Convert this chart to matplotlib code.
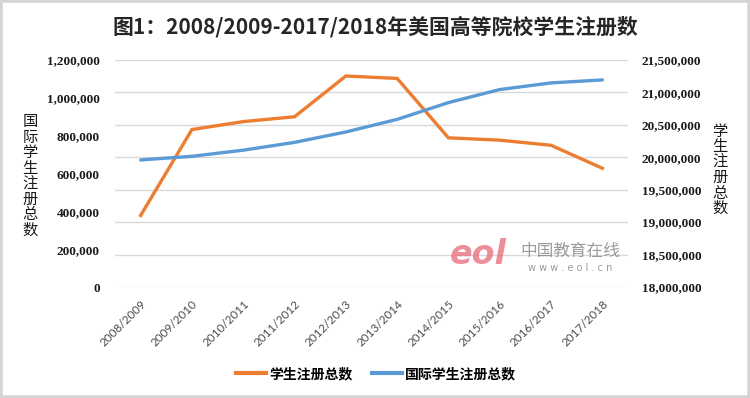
import matplotlib.pyplot as plt
from matplotlib.patches import Rectangle
from matplotlib.lines import Line2D
from matplotlib.ticker import FuncFormatter

plt.rcParams['font.family'] = ['Noto Sans CJK SC', 'DejaVu Sans']

# data
years = ['2008/2009', '2009/2010', '2010/2011', '2011/2012', '2012/2013',
         '2013/2014', '2014/2015', '2015/2016', '2016/2017', '2017/2018']
total_students = [19103000, 20428000, 20550000, 20625000, 21253000,
                  21216000, 20300000, 20264000, 20185000, 19831000]
intl_students = [671616, 690923, 723277, 764495, 819644,
                 886052, 974926, 1043839, 1078822, 1094792]

left_ticks = [0, 200000, 400000, 600000, 800000, 1000000, 1200000]
right_ticks = [18000000, 18500000, 19000000, 19500000, 20000000,
               20500000, 21000000, 21500000]

orange = '#ED7D31'
blue = '#5B9BD5'

W, H = 750, 398
fig = plt.figure(figsize=(7.5, 3.98), dpi=100)
fig.patch.set_facecolor('white')

rect = [115 / W, 1 - 287 / H, (628 - 115) / W, 227 / H]
ax2 = fig.add_axes(rect)             # right axis: total students + gridlines
ax = fig.add_axes(rect, sharex=ax2)  # left axis: international students

x = list(range(len(years)))

# right scale (orange) with gridlines
ax2.plot(x, total_students, color=orange, lw=2.4, solid_joinstyle='miter')
ax2.set_ylim(right_ticks[0], right_ticks[-1])
ax2.set_yticks(right_ticks)
ax2.yaxis.tick_right()
ax2.yaxis.grid(True, color='#d9d9d9', lw=1)
ax2.set_axisbelow(True)
ax2.yaxis.set_major_formatter(FuncFormatter(lambda v, p: '{:,.0f}'.format(v)))
ax2.tick_params(axis='y', length=0, pad=10, labelsize=9.5, labelcolor='#1a1a1a')
for lab in ax2.get_yticklabels():
    lab.set_fontfamily(['Liberation Serif'])
    lab.set_fontweight('bold')

# left scale (blue)
ax.patch.set_visible(False)
ax.plot(x, intl_students, color=blue, lw=2.4, solid_capstyle='round')
ax.set_ylim(left_ticks[0], left_ticks[-1])
ax.set_yticks(left_ticks)
ax.yaxis.set_major_formatter(FuncFormatter(lambda v, p: '{:,.0f}'.format(v)))
ax.tick_params(axis='y', length=0, pad=11, labelsize=9.5, labelcolor='#1a1a1a')
for lab in ax.get_yticklabels():
    lab.set_fontfamily(['Liberation Serif'])
    lab.set_fontweight('bold')

ax.set_xlim(-0.5, len(years) - 0.5)
ax.set_xticks(x)
ax.set_xticklabels(years, rotation=45, ha='right', rotation_mode='anchor',
                   fontsize=8.5, color='#4d4d4d', family=['Lato', 'DejaVu Sans'])
ax.tick_params(axis='x', length=0, pad=8)
ax2.tick_params(axis='x', labelbottom=False, length=0)

for a in (ax, ax2):
    for s in a.spines.values():
        s.set_visible(False)

# axis titles, stacked vertically like the original
fig.text(30 / W, 1 - 176 / H, '\n'.join('国际学生注册总数'), ha='center', va='center',
         fontsize=11, linespacing=0.88, color='#1a1a1a')
fig.text(720 / W, 1 - 170 / H, '\n'.join('学生注册总数'), ha='center', va='center',
         fontsize=11, linespacing=0.88, color='#1a1a1a')

# title
fig.text(0.5, 1 - 27 / H, '图1：2008/2009-2017/2018年美国高等院校学生注册数',
         ha='center', va='center', fontsize=15, fontweight='bold', color='#262626')

# watermark
fig.text(478 / W, 1 - 255 / H, 'eol', ha='center', va='center', fontsize=24,
         fontstyle='italic', fontweight='bold', color='#e86a78', alpha=0.75,
         family=['DejaVu Sans'])
fig.text(570 / W, 1 - 251 / H, '中国教育在线', ha='center', va='center',
         fontsize=12, color='#8a8a8a', alpha=0.85)
fig.text(570 / W, 1 - 268 / H, 'w w w . e o l . c n', ha='center', va='center',
         fontsize=7, color='#8a8a8a', alpha=0.85, family=['DejaVu Sans'])

# legend
handles = [Line2D([], [], color=orange, lw=3), Line2D([], [], color=blue, lw=3)]
fig.legend(handles, ['学生注册总数', '国际学生注册总数'], loc='center',
           bbox_to_anchor=(376 / W, 1 - 374 / H), ncol=2, frameon=False,
           handlelength=2.2, handletextpad=0.2, columnspacing=1.4,
           prop={'size': 10, 'weight': 'bold'})

# light grey frame around the picture
fig.add_artist(Rectangle((0, 0), 1, 1, transform=fig.transFigure, fill=False,
                         edgecolor='#d4d4d4', lw=4))

fig.savefig('out.png', dpi=100)
